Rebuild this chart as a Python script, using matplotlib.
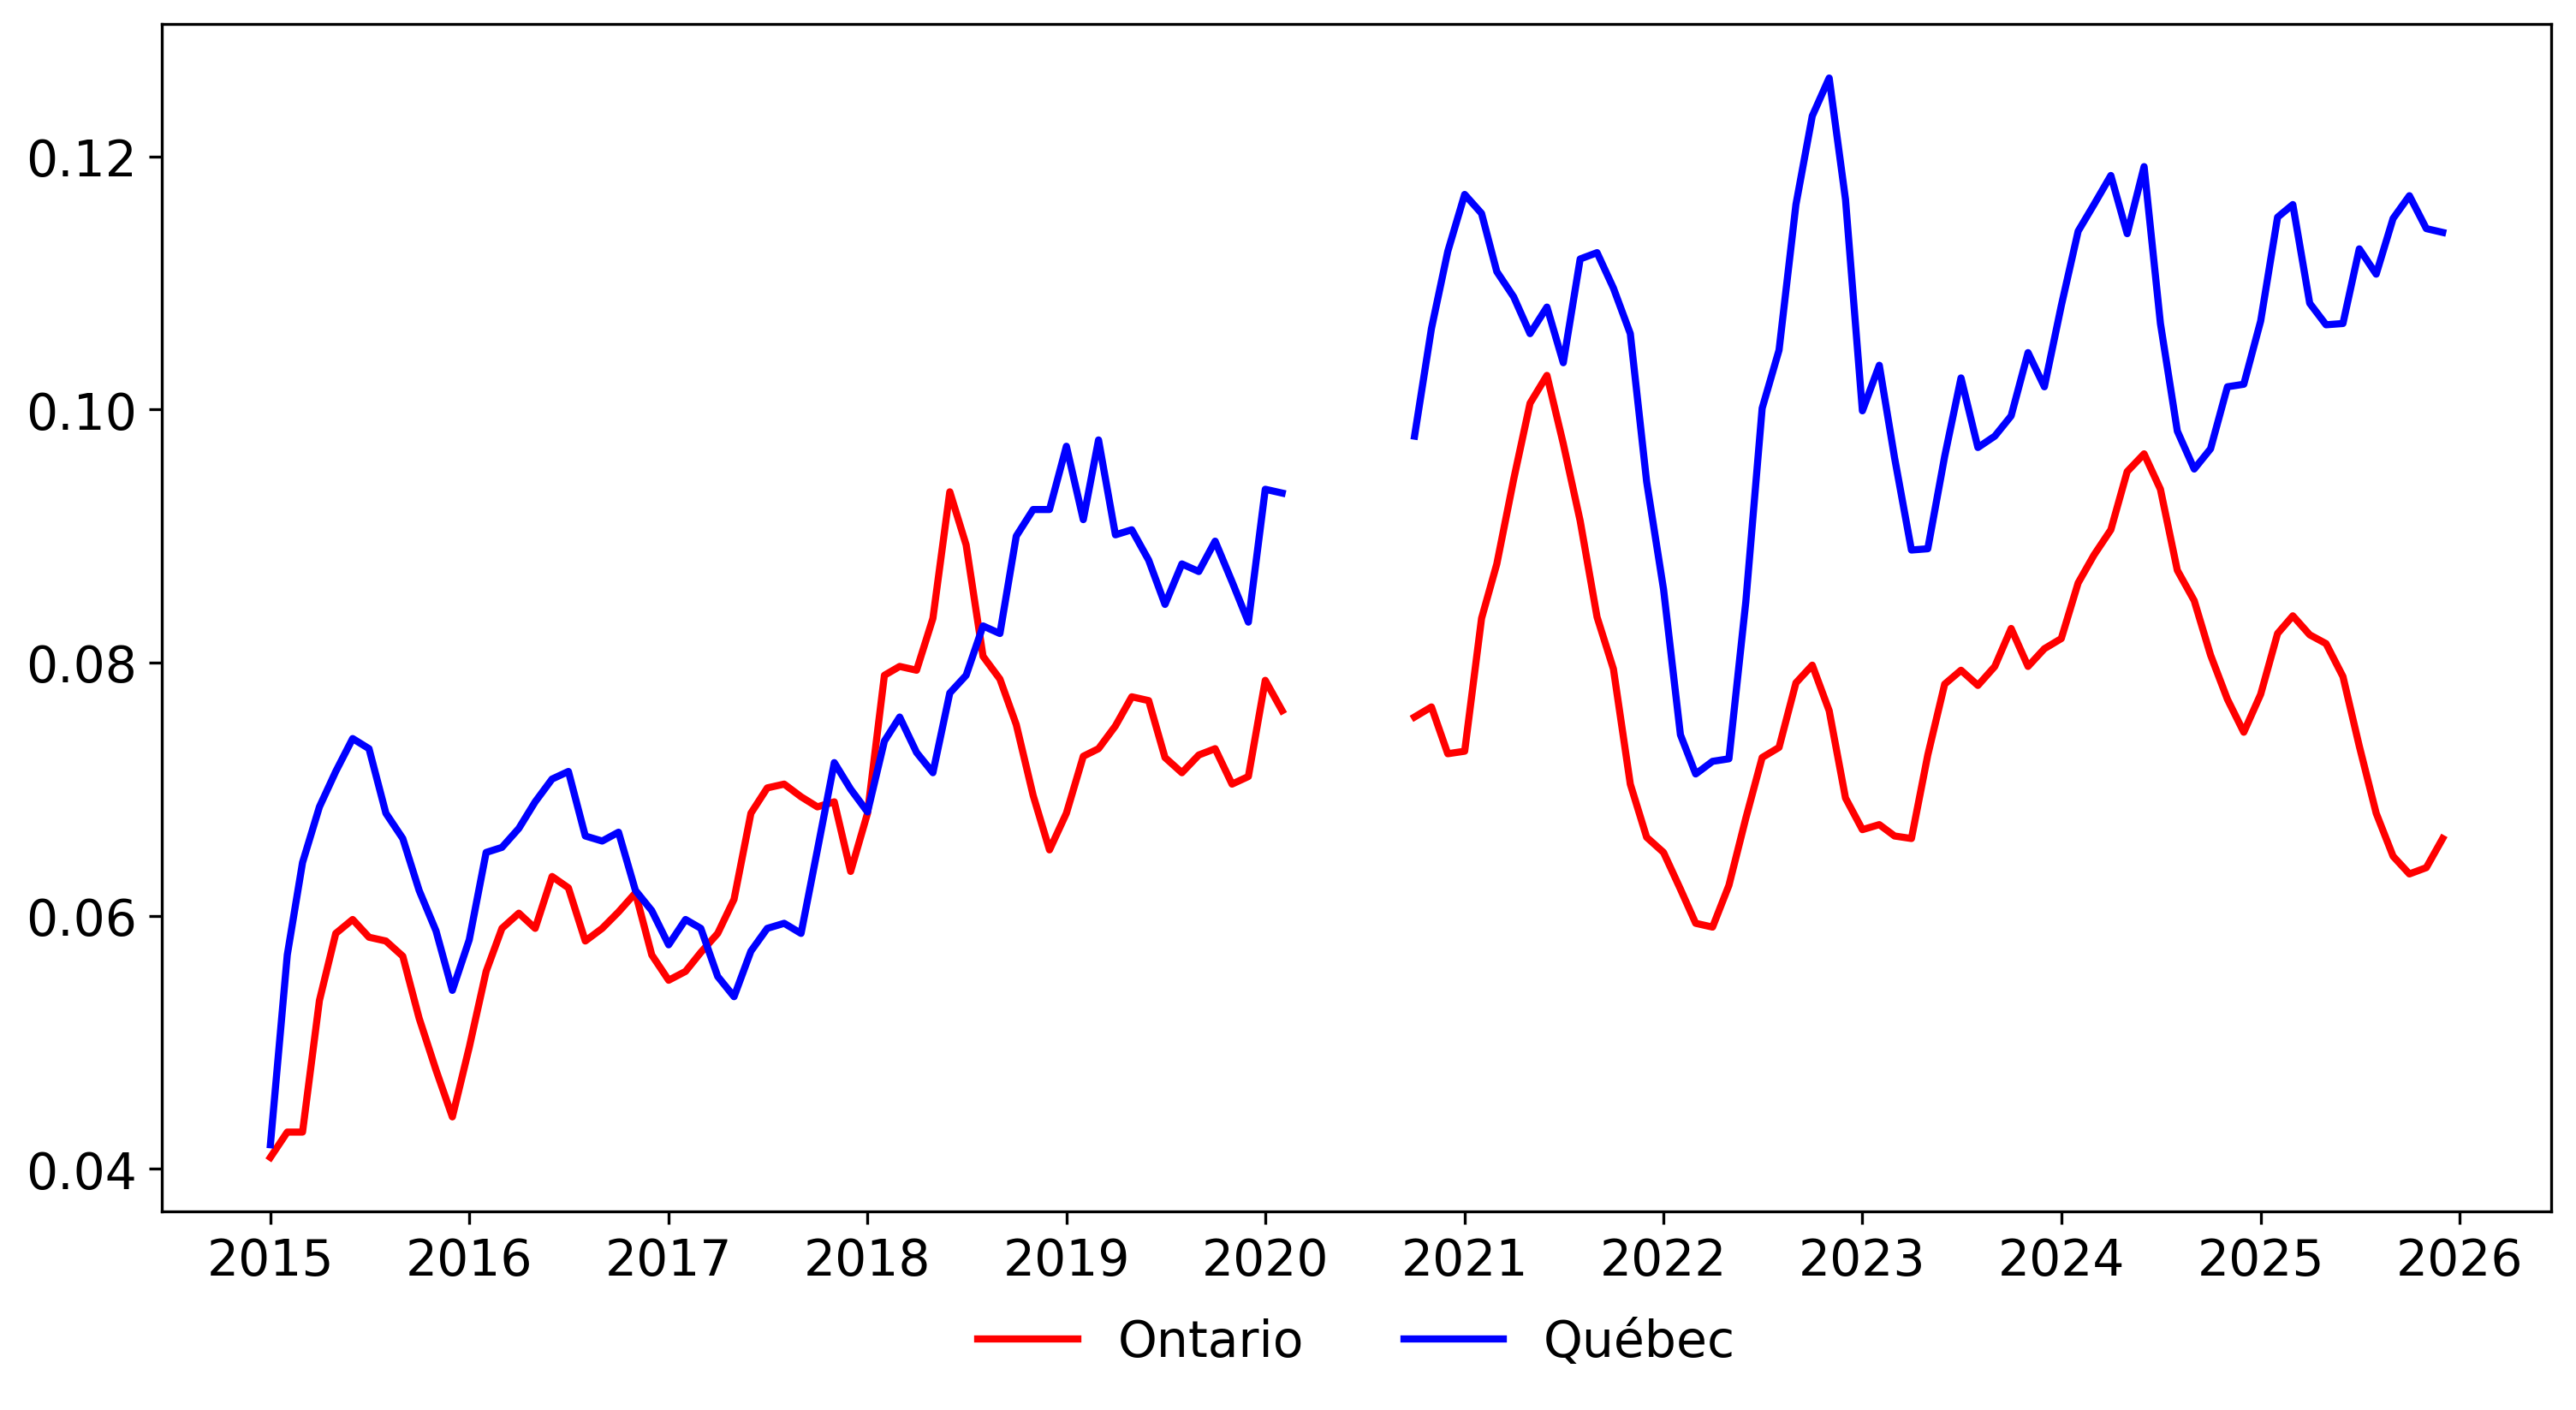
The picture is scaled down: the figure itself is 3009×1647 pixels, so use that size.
import numpy as np
import pandas as pd
import matplotlib
matplotlib.use('Agg')
import matplotlib.pyplot as plt
import matplotlib.dates as mdates

# Data
# ----------------------------------------------------------------------------

nan = np.nan

months = pd.date_range('2015-01-01', '2025-12-01', freq='MS')

ontario = [
    0.0409, 0.0429, 0.0429, 0.0533, 0.0586, 0.0597, 0.0583, 0.0580, 0.0568, 0.0519, 0.0478, 0.0441,
    0.0496, 0.0556, 0.0590, 0.0602, 0.0590, 0.0631, 0.0622, 0.0580, 0.0590, 0.0603, 0.0618, 0.0569,
    0.0549, 0.0556, 0.0571, 0.0586, 0.0613, 0.0681, 0.0701, 0.0704, 0.0694, 0.0686, 0.0690, 0.0635,
    0.0681, 0.0790, 0.0797, 0.0794, 0.0835, 0.0935, 0.0893, 0.0805, 0.0787, 0.0751, 0.0695, 0.0652,
    0.0681, 0.0726, 0.0732, 0.0750, 0.0773, 0.0770, 0.0725, 0.0713, 0.0727, 0.0732, 0.0704, 0.0710,
    0.0786, 0.0762, nan, nan, nan, nan, nan, nan, nan, 0.0757, 0.0765, 0.0728,
    0.0730, 0.0835, 0.0878, 0.0945, 0.1005, 0.1027, 0.0973, 0.0912, 0.0836, 0.0795, 0.0704, 0.0662,
    0.0650, 0.0621, 0.0594, 0.0591, 0.0624, 0.0677, 0.0725, 0.0733, 0.0784, 0.0798, 0.0762, 0.0693,
    0.0668, 0.0672, 0.0663, 0.0661, 0.0727, 0.0783, 0.0794, 0.0782, 0.0797, 0.0827, 0.0797, 0.0811,
    0.0819, 0.0863, 0.0885, 0.0905, 0.0951, 0.0965, 0.0937, 0.0873, 0.0849, 0.0806, 0.0771, 0.0745,
    0.0775, 0.0823, 0.0837, 0.0822, 0.0815, 0.0789, 0.0734, 0.0681, 0.0647, 0.0633, 0.0638, 0.0661,
]

quebec = [
    0.0419, 0.0569, 0.0642, 0.0686, 0.0714, 0.0740, 0.0732, 0.0681, 0.0661, 0.0620, 0.0588, 0.0541,
    0.0581, 0.0650, 0.0654, 0.0669, 0.0690, 0.0708, 0.0714, 0.0663, 0.0659, 0.0666, 0.0620, 0.0604,
    0.0577, 0.0597, 0.0590, 0.0552, 0.0536, 0.0572, 0.0590, 0.0594, 0.0586, 0.0652, 0.0721, 0.0700,
    0.0682, 0.0738, 0.0757, 0.0729, 0.0713, 0.0776, 0.0790, 0.0829, 0.0823, 0.0900, 0.0921, 0.0921,
    0.0971, 0.0913, 0.0976, 0.0901, 0.0905, 0.0881, 0.0846, 0.0878, 0.0872, 0.0896, 0.0864, 0.0832,
    0.0937, 0.0934, nan, nan, nan, nan, nan, nan, nan, 0.0979, 0.1064, 0.1125,
    0.1170, 0.1155, 0.1109, 0.1089, 0.1060, 0.1081, 0.1037, 0.1119, 0.1124, 0.1096, 0.1060, 0.0943,
    0.0858, 0.0743, 0.0712, 0.0722, 0.0724, 0.0848, 0.1001, 0.1047, 0.1162, 0.1232, 0.1262, 0.1166,
    0.0999, 0.1035, 0.0962, 0.0889, 0.0890, 0.0963, 0.1025, 0.0970, 0.0979, 0.0995, 0.1045, 0.1018,
    0.1082, 0.1141, 0.1162, 0.1185, 0.1139, 0.1192, 0.1068, 0.0983, 0.0953, 0.0969, 0.1018, 0.1020,
    0.1070, 0.1152, 0.1162, 0.1084, 0.1067, 0.1068, 0.1127, 0.1107, 0.1151, 0.1169, 0.1143, 0.1140,
]

# Plot
# ----------------------------------------------------------------------------

plt.rcParams['font.size'] = 14

fig = plt.figure(figsize=(10.03, 5.493), dpi=300)
ax = fig.add_axes([0.0628, 0.1408, 0.9276, 0.8416])

ax.plot(months, ontario, color='red', lw=2, label='Ontario')
ax.plot(months, quebec, color='blue', lw=2, label='Québec')

ax.set_yticks([0.04, 0.06, 0.08, 0.10, 0.12])
ax.xaxis.set_major_locator(mdates.YearLocator(1))
ax.xaxis.set_major_formatter(mdates.DateFormatter('%Y'))

fig.legend(loc='center', bbox_to_anchor=(0.5266, 0.048), ncol=2, frameon=False)

fig.savefig('out.png', dpi=300)
